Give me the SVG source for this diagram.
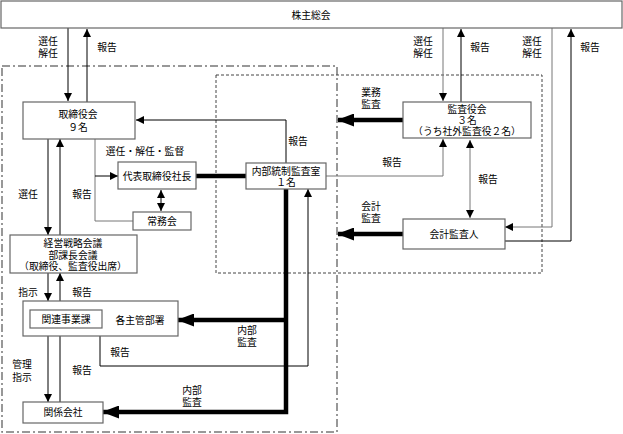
<svg xmlns="http://www.w3.org/2000/svg" width="623" height="434" viewBox="0 0 623 434">
<style>
text{font-family:"Liberation Sans","Noto Sans CJK JP",sans-serif;font-size:9.8px;fill:#000;text-anchor:middle;dominant-baseline:central}
.box{fill:#fff;stroke:#666;stroke-width:1.2}
.ln{fill:none;stroke:#000;stroke-width:1}
.gl{fill:none;stroke:#777;stroke-width:1}
.th{fill:none;stroke:#000;stroke-width:4.5}
</style>
<defs>
<marker id="a" markerUnits="userSpaceOnUse" markerWidth="8" markerHeight="8" refX="8" refY="4" orient="auto-start-reverse"><path d="M0,0 L8,4 L0,8 z" fill="#000"/></marker>
<marker id="b" markerUnits="userSpaceOnUse" markerWidth="17" markerHeight="13" refX="16" refY="6.5" orient="auto"><path d="M0,0 L17,6.5 L0,13 z" fill="#000"/></marker>
</defs>
<rect x="2" y="66" width="335" height="366" fill="none" stroke="#777" stroke-width="1.5" stroke-dasharray="8,3,2,3"/>
<rect x="216" y="75" width="326" height="198" fill="none" stroke="#444" stroke-width="1" stroke-dasharray="3,2"/>
<g id="connectors">
<path class="ln" d="M68,28 V101" marker-end="url(#a)"/>
<path class="ln" d="M87,102 V29" marker-end="url(#a)"/>
<path class="gl" d="M443,28 V101" marker-end="url(#a)"/>
<path class="ln" d="M461,102 V29" marker-end="url(#a)"/>
<path class="gl" d="M552,28 V227 H505" marker-end="url(#a)"/>
<path class="ln" d="M505,241 H571 V29" marker-end="url(#a)"/>
<path class="ln" d="M286,163 V120 H136" marker-end="url(#a)"/>
<path class="gl" d="M95,139 V221 H133"/>
<path class="ln" d="M95,176 H118" marker-end="url(#a)"/>
<path class="ln" d="M161,190 V211" marker-start="url(#a)" marker-end="url(#a)"/>
<path class="th" d="M196,176 H246" stroke-width="3"/>
<path class="gl" d="M326,176 H443 V139" marker-end="url(#a)"/>
<path class="th" d="M403,120 H338" marker-end="url(#b)"/>
<path class="th" d="M403,234 H338" marker-end="url(#b)"/>
<path class="gl" d="M470,140 V218" marker-start="url(#a)" marker-end="url(#a)"/>
<path class="ln" d="M48,139 V235" marker-end="url(#a)"/>
<path class="ln" d="M60,235 V139" marker-end="url(#a)"/>
<path class="ln" d="M48,273 V301" marker-end="url(#a)"/>
<path class="ln" d="M60,301 V273" marker-end="url(#a)"/>
<path class="th" d="M286,189 V412 H103" stroke-width="5" marker-end="url(#b)"/>
<path class="th" d="M286,320 H178" marker-end="url(#b)"/>
<path class="ln" d="M100,336 V366 H308 V189" marker-end="url(#a)"/>
<path class="ln" d="M48,328 V402" marker-end="url(#a)"/>
<path class="ln" d="M60,402 V328" marker-end="url(#a)"/>
</g>
<g id="labels">
<text x="48" y="41">選任<tspan x="48" dy="12">解任</tspan></text>
<text x="107" y="47">報告</text>
<text x="423" y="41">選任<tspan x="423" dy="12">解任</tspan></text>
<text x="480" y="47">報告</text>
<text x="532" y="41">選任<tspan x="532" dy="12">解任</tspan></text>
<text x="590" y="47">報告</text>
<text x="298" y="141">報告</text>
<text x="145" y="151">選任・解任・監督</text>
<text x="371" y="92">業務<tspan x="371" dy="11.5">監査</tspan></text>
<text x="392" y="162">報告</text>
<text x="488" y="179">報告</text>
<text x="371" y="206">会計<tspan x="371" dy="11.5">監査</tspan></text>
<text x="28" y="194">選任</text>
<text x="82" y="194">報告</text>
<text x="28" y="292">指示</text>
<text x="82" y="292">報告</text>
<text x="247" y="330">内部<tspan x="247" dy="12">監査</tspan></text>
<text x="120" y="352">報告</text>
<text x="22" y="364">管理<tspan x="22" dy="13">指示</tspan></text>
<text x="82" y="370">報告</text>
<text x="192" y="390">内部<tspan x="192" dy="12">監査</tspan></text>
</g>
<g id="n-kabunushi"><rect class="box" x="1" y="1" width="621" height="27"/><text x="311" y="15">株主総会</text></g>
<g id="n-torishimariyakukai"><rect class="box" x="23" y="102" width="112" height="37"/><text x="78" y="114.5">取締役会<tspan x="78" dy="12">９名</tspan></text></g>
<g id="n-shacho"><rect class="box" x="118" y="162" width="78" height="27"/><text x="157" y="176">代表取締役社長</text></g>
<g id="n-jomukai"><rect class="box" x="133" y="212" width="58" height="18"/><text x="162" y="221">常務会</text></g>
<g id="n-naibu"><rect class="box" x="246" y="163" width="80" height="26"/><text x="286" y="171">内部統制監査室<tspan x="286" dy="11.2">１名</tspan></text></g>
<g id="n-kansayakukai"><rect class="box" x="403" y="102" width="128" height="36"/><text x="467" y="109">監査役会<tspan x="467" dy="11.2">３名</tspan><tspan x="467" dy="11.2">（うち社外監査役２名）</tspan></text></g>
<g id="n-kaikei"><rect class="box" x="403" y="219" width="102" height="30"/><text x="454" y="234">会計監査人</text></g>
<g id="n-keiei"><rect class="box" x="10" y="235" width="127" height="38"/><text x="73" y="243">経営戦略会議<tspan x="73" dy="11.5">部課長会議</tspan><tspan x="73" dy="11.5">（取締役、監査役出席）</tspan></text></g>
<g id="n-kakushukan"><rect class="box" x="23" y="301" width="155" height="35"/><text x="140" y="320">各主管部署</text></g>
<g id="n-kanren"><rect class="box" x="30" y="310" width="72" height="18"/><text x="66" y="319">関連事業課</text></g>
<g id="n-kankei"><rect class="box" x="23" y="402" width="80" height="21"/><text x="63" y="412">関係会社</text></g>
</svg>
